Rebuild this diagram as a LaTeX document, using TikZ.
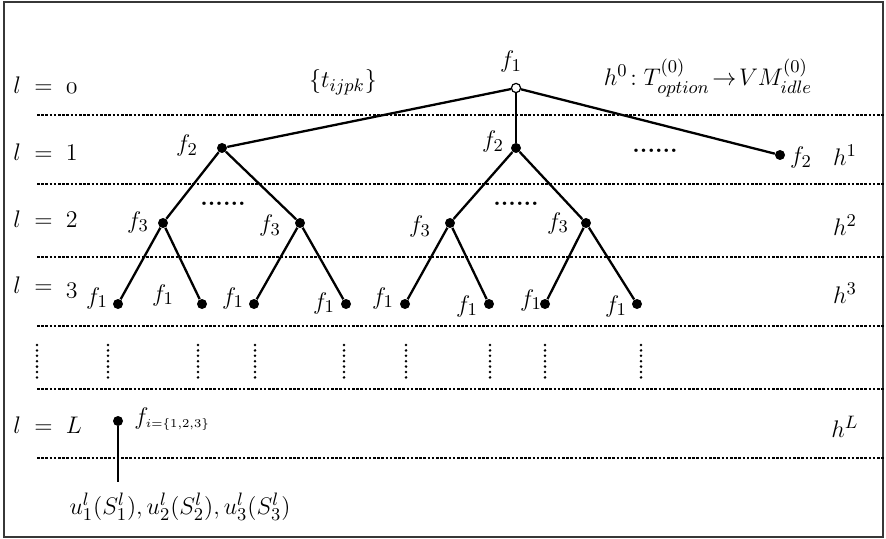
\documentclass[tikz,border=0pt]{standalone}
\usepackage{amsmath}
\usepackage{tikz}
\usetikzlibrary{positioning}
\definecolor{FrameGray}{RGB}{55,55,55}
\tikzset{
  vtx/.style={circle, fill=black, inner sep=0pt, minimum size=5pt},
  rootvtx/.style={circle, draw=black, fill=white, line width=0.6pt, inner sep=0pt, minimum size=4.6pt},
  branch/.style={line width=1.15pt},
  layer/.style={line width=0.65pt, dash pattern=on 1.3pt off 0.8pt},
  gap/.style={line width=1.4pt, line cap=round, dash pattern=on 0pt off 2.7pt},
  lbl/.style={inner sep=0pt, font=\fontsize{13}{15}\selectfont},
  etc/.style={inner sep=0pt, font=\bfseries\large},
}

\begin{document}
\begin{tikzpicture}[x=0.5pt, y=-0.5pt]
\useasboundingbox (0,0) rectangle (886,539);
\draw[FrameGray, line width=1.2pt] (4,2) rectangle (883,537);

% layer separators
\draw[layer] (37,115) -- (884,115) (37,184) -- (884,184) (37,257) -- (884,257)
  (37,326) -- (884,326) (37,389) -- (884,389) (37,458) -- (884,458);

% level names
\node[lbl, anchor=west] (l0) at (13,85) {$l \;=\; \oldstylenums{0}$};
\node[lbl, anchor=west] (l1) at (13,152) {$l \;=\; 1$};
\node[lbl, anchor=west] (l2) at (13,219) {$l \;=\; 2$};
\node[lbl, anchor=west] (l3) at (13,287) {$l \;=\; \oldstylenums{3}$};
\node[lbl, anchor=west] (lL) at (13,425) {$l \;=\; L$};

\node[lbl] (h1) at (845,155) {$h^1$};
\node[lbl] (h2) at (845,225) {$h^2$};
\node[lbl] (h3) at (845,293) {$h^3$};
\node[lbl] (hL) at (845,427) {$h^L$};

\node[lbl] (tset) at (343,82) {$\{t_{ijpk}\}$};
\node[lbl] (hzero) at (708,78) {$h^0\!:T^{(0)}_{option}\!\rightarrow\! VM^{(0)}_{idle}$};

% tree
\node[rootvtx] (r) at (516,88) {};
\node[vtx] (a) at (222,148) {};
\node[vtx] (b) at (516,148) {};
\node[vtx] (c) at (780,155) {};
\node[vtx] (d) at (163,223) {};
\node[vtx] (e) at (300,223) {};
\node[vtx] (f) at (450,223) {};
\node[vtx] (g) at (586,223) {};
\node[vtx] (k1) at (118,304) {};
\node[vtx] (k2) at (202,304) {};
\node[vtx] (k3) at (254,304) {};
\node[vtx] (k4) at (346,304) {};
\node[vtx] (k5) at (405,304) {};
\node[vtx] (k6) at (489,304) {};
\node[vtx] (k7) at (545,304) {};
\node[vtx] (k8) at (637,304) {};

\draw[branch] (r) -- (a);
\draw[branch] (r) -- (b);
\draw[branch] (r) -- (c);
\draw[branch] (a) -- (d);
\draw[branch] (a) -- (e);
\draw[branch] (b) -- (f);
\draw[branch] (b) -- (g);
\draw[branch] (d) -- (k1);
\draw[branch] (d) -- (k2);
\draw[branch] (e) -- (k3);
\draw[branch] (e) -- (k4);
\draw[branch] (f) -- (k5);
\draw[branch] (f) -- (k6);
\draw[branch] (g) -- (k7);
\draw[branch] (g) -- (k8);

\node[lbl] (rlab) at (511,62) {$f_1$};
\node[lbl] (alab) at (187,146) {$f_2$};
\node[lbl] (blab) at (493,142) {$f_2$};
\node[lbl] (clab) at (801,158) {$f_2$};
\node[lbl] (dlab) at (138,222) {$f_3$};
\node[lbl] (elab) at (270,226) {$f_3$};
\node[lbl] (flab) at (420,227) {$f_3$};
\node[lbl] (glab) at (558,223) {$f_3$};
\node[lbl] (k1lab) at (97,298) {$f_1$};
\node[lbl] (k2lab) at (163,295) {$f_1$};
\node[lbl] (k3lab) at (233,298) {$f_1$};
\node[lbl] (k4lab) at (324,303) {$f_1$};
\node[lbl] (k5lab) at (383,298) {$f_1$};
\node[lbl] (k6lab) at (467,306) {$f_1$};
\node[lbl] (k7lab) at (531,300) {$f_1$};
\node[lbl] (k8lab) at (616,306) {$f_1$};

\node[etc] (dots1) at (655,151) {......};
\node[etc] (dots2) at (223,204) {......};
\node[etc] (dots3) at (516,204) {......};

% omitted levels
\draw[gap] (37,345) -- (37,378) (108,345) -- (108,378) (198,345) -- (198,378)
  (255,345) -- (255,378) (344,345) -- (344,378) (406,345) -- (406,378)
  (490,345) -- (490,378) (545,345) -- (545,378) (641,345) -- (641,378);

% last level
\node[vtx] (m) at (118,421) {};
\node[lbl, anchor=west] (mlab) at (134,419) {$f_{\scriptscriptstyle i=\{1,2,3\}}$};
\coordinate (mout) at (118,482);
\draw[branch] (m) -- (mout);
\node[lbl] (ulab) at (180,507) {$u^l_1(S^l_1), u^l_2(S^l_2), u^l_3(S^l_3)$};
\end{tikzpicture}
\end{document}
